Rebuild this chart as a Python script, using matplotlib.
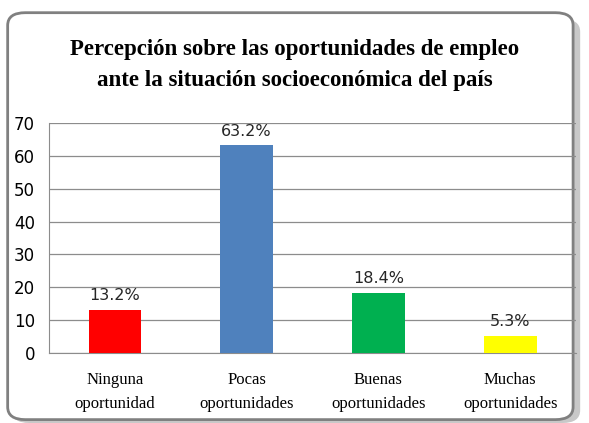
import matplotlib
matplotlib.use("Agg")
import matplotlib.pyplot as plt
from matplotlib.patches import FancyBboxPatch
from matplotlib import font_manager

categorias = ["Ninguna\noportunidad", "Pocas\noportunidades", "Buenas\noportunidades", "Muchas\noportunidades"]
valores = [13.2, 63.2, 18.4, 5.3]
etiquetas = ["13.2%", "63.2%", "18.4%", "5.3%"]
colores = ["#ff0000", "#4f81bd", "#00b050", "#ffff00"]
yticks = [0, 10, 20, 30, 40, 50, 60, 70]

nombres = {f.name for f in font_manager.fontManager.ttflist}
sans = "Liberation Sans Narrow" if "Liberation Sans Narrow" in nombres else "DejaVu Sans"
serif = "Liberation Serif"

fig = plt.figure(figsize=(5.89, 4.23), dpi=100)

# marco redondeado con sombra
sombra = FancyBboxPatch((0.02, 0.0), 0.965, 0.955, boxstyle="round,pad=0,rounding_size=0.03",
                        transform=fig.transFigure, facecolor="#c8c8c8", edgecolor="none", zorder=0)
marco = FancyBboxPatch((0.013, 0.008), 0.96, 0.962, boxstyle="round,pad=0,rounding_size=0.03",
                       transform=fig.transFigure, facecolor="white", edgecolor="#808080", lw=2, zorder=0.5)
fig.patches.extend([sombra, marco])

ax = fig.add_axes([0.0832, 0.1655, 0.8948, 0.5435])
ax.set_zorder(2)
ax.set_facecolor("none")
x = range(len(valores))
ax.bar(x, valores, width=0.4, color=colores, zorder=3)
for i, v in enumerate(valores):
    ax.text(i, v + 2.0, etiquetas[i], ha="center", va="bottom", fontsize=11.5,
            family=sans, color="#262626")

ax.set_ylim(0, 70)
ax.set_xlim(-0.5, 3.5)
ax.set_yticks(yticks)
ax.set_yticklabels([str(t) for t in yticks], family=sans, fontsize=12)
ax.set_xticks(list(x))
ax.set_xticklabels(categorias, family=serif, fontsize=12, linespacing=1.65)
ax.tick_params(length=0)
ax.tick_params(axis="x", pad=14)
ax.tick_params(axis="y", pad=10)
ax.yaxis.grid(True, color="#8c8c8c", lw=0.9, zorder=0)
for s in ["top", "right"]:
    ax.spines[s].set_visible(False)
for s in ["left", "bottom"]:
    ax.spines[s].set_color("#8c8c8c")

fig.text(0.5, 0.847, "Percepción sobre las oportunidades de empleo\nante la situación socioeconómica del país",
         ha="center", va="center", family=serif, fontweight="bold", fontsize=16.5, linespacing=1.6,
         zorder=3)

fig.savefig("out.png", dpi=100)
